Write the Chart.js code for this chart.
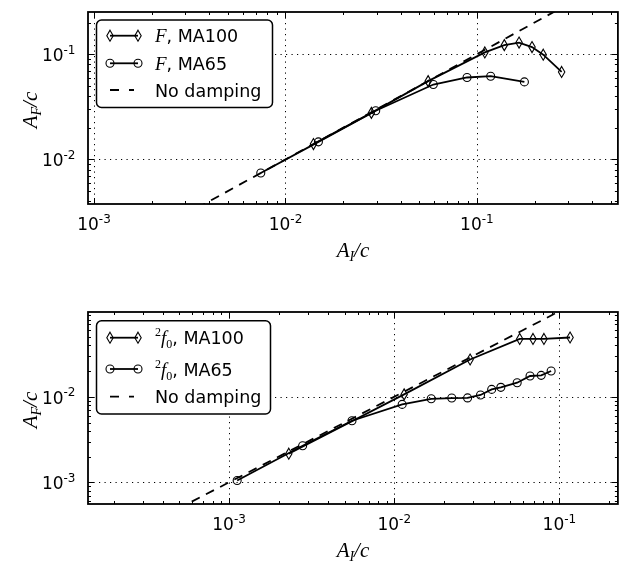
<!DOCTYPE html>
<html>
<head>
<meta charset="utf-8">
<script src="https://cdn.jsdelivr.net/npm/chart.js@4.4.0/dist/chart.umd.min.js"></script>
<style>
  body { margin: 0; background: #fff; width: 623px; height: 562px; overflow: hidden; position: relative; }
  canvas { position: absolute; left: 0; }
</style>
</head>
<body>
<canvas id="topChart" width="623" height="281" style="top:0"></canvas>
<canvas id="botChart" width="623" height="281" style="top:281px"></canvas>
<script>
// top panel : F
const topX100 = [0.0140, 0.0281, 0.0556, 0.110, 0.139, 0.166, 0.194, 0.222, 0.277];
const topY100 = [0.0140, 0.0277, 0.0555, 0.104, 0.122, 0.129, 0.117, 0.099, 0.0679];
const topX65 = [0.00743, 0.01486, 0.0296, 0.0592, 0.0888, 0.118, 0.177];
const topY65 = [0.00742, 0.01469, 0.0290, 0.0515, 0.0601, 0.0618, 0.0546];

// bottom panel : 2f0
const botX100 = [0.00230, 0.01148, 0.0288, 0.0575, 0.0692, 0.0806, 0.116];
const botY100 = [0.00216, 0.01067, 0.0273, 0.0475, 0.0475, 0.0475, 0.0493];
const botX65 = [0.00112, 0.00279, 0.00555, 0.01117, 0.01675, 0.0223, 0.0278, 0.0333, 0.0389, 0.0442, 0.0555, 0.0664, 0.0776, 0.0891];
const botY65 = [0.00105, 0.00268, 0.00525, 0.00815, 0.00948, 0.00966, 0.0097, 0.0105, 0.0122, 0.0129, 0.0146, 0.0175, 0.0178, 0.0200];

// no damping : A_F = A_I
const dampX = [0.0001, 1];
const dampY = [0.0001, 1];

const SANS = '"DejaVu Sans", sans-serif';
const SERIF = '"Liberation Serif", "DejaVu Serif", serif';

function pts(xs, ys) {
  return xs.map((x, i) => ({x: x, y: ys[i]}));
}

// thin diamond, drawn as a path so it stays sharp
function diamondPath(ctx, x, y) {
  ctx.beginPath();
  ctx.moveTo(x, y - 5.5); ctx.lineTo(x + 3.2, y); ctx.lineTo(x, y + 5.5); ctx.lineTo(x - 3.2, y);
  ctx.closePath();
  ctx.lineWidth = 1.1;
  ctx.stroke();
}

function drawParts(ctx, parts, x, y, align) {
  let w = 0;
  parts.forEach(p => { ctx.font = p[1]; w += ctx.measureText(p[0]).width; });
  let cx = align === 'center' ? x - w / 2 : (align === 'right' ? x - w : x);
  ctx.textAlign = 'left';
  ctx.textBaseline = 'alphabetic';
  parts.forEach(p => {
    ctx.font = p[1];
    ctx.fillText(p[0], cx, y + (p[2] || 0));
    cx += ctx.measureText(p[0]).width;
  });
}

function decadeLabel(k) {
  return [['10', '17px ' + SANS, 0], [String(k), '12px ' + SANS, -7.5]];
}

function roundBox(ctx, x, y, w, h, r) {
  ctx.beginPath();
  ctx.moveTo(x + r, y);
  ctx.lineTo(x + w - r, y); ctx.arcTo(x + w, y, x + w, y + r, r);
  ctx.lineTo(x + w, y + h - r); ctx.arcTo(x + w, y + h, x + w - r, y + h, r);
  ctx.lineTo(x + r, y + h); ctx.arcTo(x, y + h, x, y + h - r, r);
  ctx.lineTo(x, y + r); ctx.arcTo(x, y, x + r, y, r);
  ctx.closePath();
}

function decades(scale) {
  const out = [];
  for (let k = Math.floor(Math.log10(scale.min)); k <= Math.ceil(Math.log10(scale.max)); k++) {
    for (let m = 1; m <= 9; m++) {
      const v = m * Math.pow(10, k);
      if (v >= scale.min * 0.9999 && v <= scale.max * 1.0001) out.push({v: v, major: m === 1, k: k});
    }
  }
  return out;
}

const axesPlugin = {
  id: 'mplAxes',
  beforeDatasetsDraw(chart) {
    const ctx = chart.ctx, a = chart.chartArea;
    const xs = chart.scales.x, ys = chart.scales.y;
    ctx.save();
    ctx.strokeStyle = '#000';
    ctx.lineWidth = 1;
    ctx.setLineDash([1.2, 4.3]);
    decades(xs).filter(t => t.major).forEach(t => {
      const px = Math.round(xs.getPixelForValue(t.v)) + 0.5;
      ctx.beginPath(); ctx.moveTo(px, a.top); ctx.lineTo(px, a.bottom); ctx.stroke();
    });
    decades(ys).filter(t => t.major).forEach(t => {
      const py = Math.round(ys.getPixelForValue(t.v)) + 0.5;
      ctx.beginPath(); ctx.moveTo(a.left, py); ctx.lineTo(a.right, py); ctx.stroke();
    });
    ctx.restore();
  },
  afterDatasetsDraw(chart, args, opts) {
    const ctx = chart.ctx, a = chart.chartArea;
    const xs = chart.scales.x, ys = chart.scales.y;
    ctx.save();
    ctx.strokeStyle = '#000';
    ctx.fillStyle = '#000';
    ctx.setLineDash([]);
    // diamond markers of the MA100 series, at the positions the scatter controller computed
    chart.getDatasetMeta(0).data.forEach(el => diamondPath(ctx, el.x, el.y));
    // ticks on all four sides, pointing inwards
    ctx.lineWidth = 1;
    decades(xs).forEach(t => {
      const px = Math.round(xs.getPixelForValue(t.v)) + 0.5;
      const len = t.major ? 6 : 3;
      ctx.beginPath();
      ctx.moveTo(px, a.bottom); ctx.lineTo(px, a.bottom - len);
      ctx.moveTo(px, a.top); ctx.lineTo(px, a.top + len);
      ctx.stroke();
    });
    decades(ys).forEach(t => {
      const py = Math.round(ys.getPixelForValue(t.v)) + 0.5;
      const len = t.major ? 6 : 3;
      ctx.beginPath();
      ctx.moveTo(a.left, py); ctx.lineTo(a.left + len, py);
      ctx.moveTo(a.right, py); ctx.lineTo(a.right - len, py);
      ctx.stroke();
    });
    // spines
    ctx.lineWidth = 1.8;
    ctx.strokeRect(a.left, a.top, a.right - a.left, a.bottom - a.top);
    // tick labels
    decades(xs).filter(t => t.major).forEach(t => {
      drawParts(ctx, decadeLabel(t.k), xs.getPixelForValue(t.v), a.bottom + 26, 'center');
    });
    decades(ys).filter(t => t.major).forEach(t => {
      drawParts(ctx, decadeLabel(t.k), a.left - 12.5, ys.getPixelForValue(t.v) + 7, 'right');
    });
    // axis titles
    const big = 'italic 21px ' + SERIF, small = 'italic 14px ' + SERIF;
    drawParts(ctx, [['A', big, 0], ['I', small, 4], ['/c', big, 0]], (a.left + a.right) / 2, opts.xTitleY, 'center');
    ctx.save();
    ctx.translate(37, (a.top + a.bottom) / 2 + 2);
    ctx.rotate(-Math.PI / 2);
    drawParts(ctx, [['A', big, 0], ['F', small, 4], ['/c', big, 0]], 0, 0, 'center');
    ctx.restore();
    // legend
    const lg = opts.legend;
    roundBox(ctx, lg.x0, lg.y0, lg.x1 - lg.x0, lg.y1 - lg.y0, 5);
    ctx.fillStyle = '#fff';
    ctx.fill();
    ctx.lineWidth = 1.5;
    ctx.stroke();
    ctx.fillStyle = '#000';
    lg.rows.forEach(r => {
      ctx.lineWidth = 1.8;
      ctx.setLineDash(r.dash || []);
      ctx.beginPath();
      ctx.moveTo(110, r.y); ctx.lineTo(r.dash ? 134 : 138, r.y);
      ctx.stroke();
      ctx.setLineDash([]);
      [110, 138].forEach(mx => {
        if (r.marker === 'diamond') {
          diamondPath(ctx, mx, r.y);
        } else if (r.marker === 'circle') {
          ctx.lineWidth = 1.1;
          ctx.beginPath(); ctx.arc(mx, r.y, 4, 0, Math.PI * 2); ctx.stroke();
        }
      });
      drawParts(ctx, r.parts, 155, r.y + 6.5, 'left');
    });
    ctx.restore();
  }
};

function lineSet(xs, ys, radius) {
  return {
    data: pts(xs, ys),
    showLine: true,
    borderColor: '#000',
    borderWidth: 1.8,
    pointStyle: 'circle',
    pointRadius: radius,
    pointBorderWidth: 1.1,
    pointBorderColor: '#000',
    pointBackgroundColor: 'rgba(0,0,0,0)'
  };
}

function makeChart(id, cfg) {
  new Chart(document.getElementById(id), {
    type: 'scatter',
    data: {
      datasets: [
        lineSet(cfg.x100, cfg.y100, 0),
        lineSet(cfg.x65, cfg.y65, 4),
        {
          data: pts(dampX, dampY),
          showLine: true,
          borderColor: '#000',
          borderWidth: 1.8,
          borderDash: [9, 7],
          pointRadius: 0
        }
      ]
    },
    options: {
      responsive: false,
      animation: false,
      devicePixelRatio: 1,
      layout: {padding: {top: cfg.padTop, right: 1, left: 0, bottom: 0}},
      plugins: {
        legend: {display: false},
        tooltip: {enabled: false},
        mplAxes: {legend: cfg.legend, xTitleY: cfg.xTitleY}
      },
      scales: {
        x: {
          type: 'logarithmic', min: cfg.xMin, max: cfg.xMax,
          grid: {display: false}, border: {display: false}, ticks: {display: false},
          afterFit: s => { s.height = cfg.xAxisH; }
        },
        y: {
          type: 'logarithmic', min: cfg.yMin, max: cfg.yMax,
          grid: {display: false}, border: {display: false}, ticks: {display: false},
          afterFit: s => { s.width = 88; }
        }
      }
    },
    plugins: [axesPlugin]
  });
}

const legFont = '17.5px ' + SANS;
const ital = 'italic 19px ' + SERIF;
const sub = '12px ' + SERIF;

makeChart('topChart', {
  x100: topX100, y100: topY100, x65: topX65, y65: topY65,
  xMin: 0.00093, xMax: 0.545, yMin: 0.00377, yMax: 0.252,
  padTop: 12, xAxisH: 77, xTitleY: 257,
  legend: {
    x0: 96.5, y0: 20, x1: 272.5, y1: 107.5,
    rows: [
      {y: 35.7, marker: 'diamond', parts: [['F', ital, 0], [', MA100', legFont, 0]]},
      {y: 63.3, marker: 'circle', parts: [['F', ital, 0], [', MA65', legFont, 0]]},
      {y: 90, dash: [9, 10], parts: [['No damping', legFont, 0]]}
    ]
  }
});

makeChart('botChart', {
  x100: botX100, y100: botY100, x65: botX65, y65: botY65,
  xMin: 0.000140, xMax: 0.226, yMin: 0.000558, yMax: 0.098,
  padTop: 31, xAxisH: 58, xTitleY: 276,
  legend: {
    x0: 96.5, y0: 39.7, x1: 270.5, y1: 133,
    rows: [
      {y: 56.7, marker: 'diamond', parts: [['2', sub, -8], ['f', ital, 0], ['0', sub, 4], [', MA100', legFont, 0]]},
      {y: 88, marker: 'circle', parts: [['2', sub, -8], ['f', ital, 0], ['0', sub, 4], [', MA65', legFont, 0]]},
      {y: 115.7, dash: [9, 10], parts: [['No damping', legFont, 0]]}
    ]
  }
});
</script>
</body>
</html>
